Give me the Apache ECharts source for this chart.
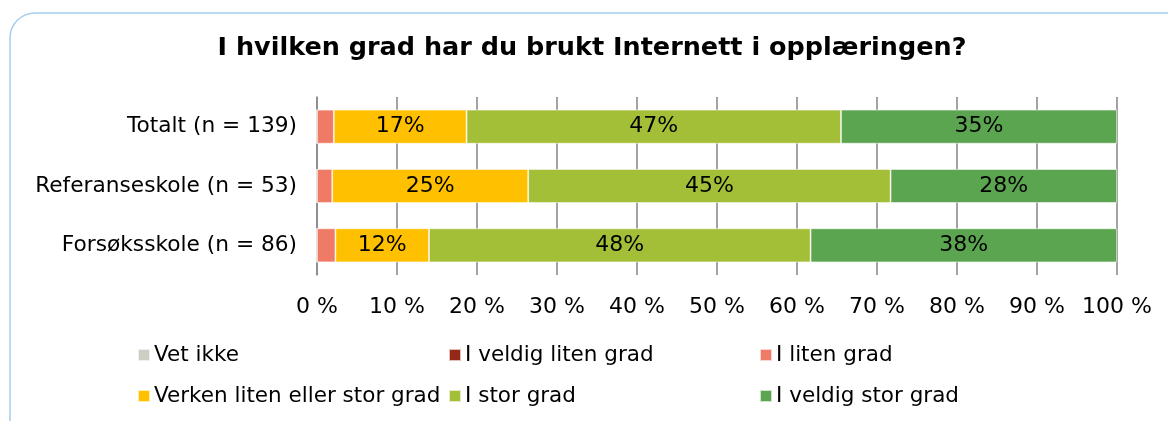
<!DOCTYPE html>
<html>
<head>
<meta charset="utf-8">
<script src="https://cdn.jsdelivr.net/npm/echarts@6/dist/echarts.min.js"></script>
<style>
  html, body { margin: 0; padding: 0; background: #fff; }
  #chart { width: 1168px; height: 421px; }
</style>
</head>
<body>
<div id="chart"></div>
<script>
// categories, top to bottom
var schools = ['Totalt (n = 139)', 'Referanseskole (n = 53)', 'Forsøksskole (n = 86)'];
var xTicks = [0, 10, 20, 30, 40, 50, 60, 70, 80, 90, 100];

// percentages per answer
var vetIkke      = [0, 0, 0];
var veldigLiten  = [0, 0, 0];
var liten        = [2.1, 1.9, 2.3];
var verken       = [16.6, 24.5, 11.7];
var stor         = [46.8, 45.3, 47.7];
var veldigStor   = [34.5, 28.3, 38.3];

var names  = ['Vet ikke', 'I veldig liten grad', 'I liten grad', 'Verken liten eller stor grad', 'I stor grad', 'I veldig stor grad'];
var values = [vetIkke, veldigLiten, liten, verken, stor, veldigStor];
var colors = ['#CFCEC5', '#962817', '#EF7B66', '#FFC000', '#A3BE37', '#5CA550'];

var font = 'DejaVu Sans';
var chart = echarts.init(document.getElementById('chart'));

var series = names.map(function (n, i) {
  return {
    name: n,
    type: 'bar',
    stack: 'all',
    barWidth: 34,
    data: values[i],
    itemStyle: { color: colors[i], borderColor: 'rgba(255,255,255,0.7)', borderWidth: 0.8 },
    label: {
      show: true,
      position: 'inside',
      color: '#000',
      fontFamily: font,
      fontSize: 22,
      formatter: function (p) { return p.value >= 5 ? Math.round(p.value) + '%' : ''; }
    }
  };
});

// legend: 3 columns x 2 rows
var legPos = [[137, 344], [448, 344], [759, 344], [137, 385], [448, 385], [759, 385]];
var legends = names.map(function (n, j) {
  return {
    left: legPos[j][0],
    top: legPos[j][1],
    padding: 0,
    icon: 'rect',
    itemWidth: 12,
    itemHeight: 12,
    selectedMode: false,
    data: [n],
    textStyle: { fontFamily: font, fontSize: 21.5, color: '#000', padding: [0, 0, 0, -1] }
  };
});

chart.setOption({
  animation: false,
  textStyle: { fontFamily: font },
  graphic: [{
    type: 'rect',
    shape: { x: 10, y: 13, width: 1200, height: 460, r: 25 },
    style: { fill: 'none', stroke: '#A6CDEE', lineWidth: 1.5 },
    z: -1
  }],
  title: {
    text: 'I hvilken grad har du brukt Internett i opplæringen?',
    left: 592,
    textAlign: 'center',
    top: 35,
    padding: 0,
    textStyle: { fontFamily: font, fontSize: 25.5, fontWeight: 'bold', color: '#000' }
  },
  legend: legends,
  grid: { left: 317, right: 51, top: 97, height: 178, containLabel: false },
  xAxis: {
    type: 'value',
    min: xTicks[0],
    max: xTicks[xTicks.length - 1],
    interval: 10,
    axisLine: { show: false },
    axisTick: { show: false },
    splitLine: { show: true, lineStyle: { color: '#8C8C8C', width: 1.6 } },
    axisLabel: { formatter: '{value} %', color: '#000', fontFamily: font, fontSize: 22, margin: 21 }
  },
  yAxis: {
    type: 'category',
    inverse: true,
    data: schools,
    axisLine: { show: true, lineStyle: { color: '#8C8C8C', width: 1.6 } },
    axisTick: { show: false },
    axisLabel: { color: '#000', fontFamily: font, fontSize: 21.7, margin: 20 }
  },
  series: series
});
</script>
</body>
</html>
